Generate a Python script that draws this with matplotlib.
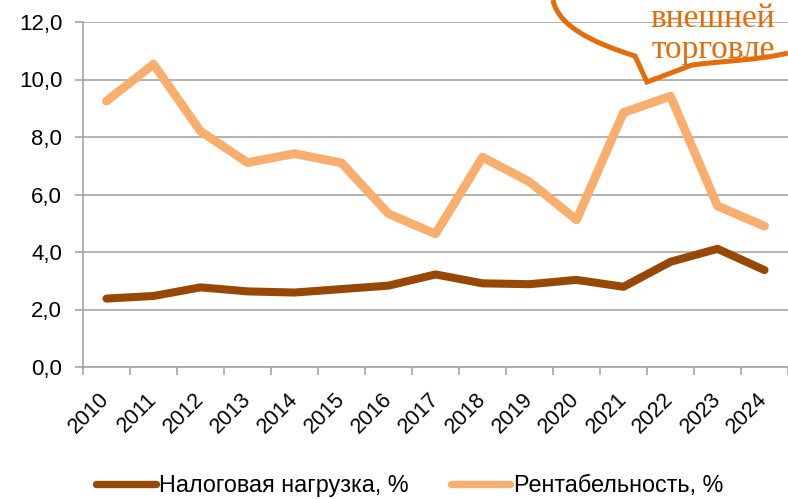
import matplotlib
matplotlib.use('Agg')
import matplotlib.pyplot as plt
from matplotlib.path import Path
from matplotlib.patches import PathPatch
from matplotlib.transforms import Affine2D

# Данные
years = ['2010', '2011', '2012', '2013', '2014', '2015', '2016', '2017',
         '2018', '2019', '2020', '2021', '2022', '2023', '2024']
tax_burden = [2.38, 2.47, 2.77, 2.63, 2.59, 2.71, 2.83, 3.22,
              2.91, 2.88, 3.03, 2.79, 3.66, 4.11, 3.37]
profitability = [9.25, 10.53, 8.2, 7.11, 7.42, 7.1, 5.33, 4.63,
                 7.3, 6.44, 5.12, 8.85, 9.42, 5.6, 4.9]
yticks = [0, 2, 4, 6, 8, 10, 12]
ytick_labels = ['0,0', '2,0', '4,0', '6,0', '8,0', '10,0', '12,0']
series_names = ['Налоговая нагрузка, %', 'Рентабельность, %']
callout_lines = ['внешней', 'торговле']

dark = '#974706'
light = '#F9AE6E'
accent = '#E46C0A'
grid = '#A6A6A6'

plt.rcParams['font.family'] = ['Liberation Sans', 'DejaVu Sans']

W, H = 788, 499
fig = plt.figure(figsize=(W / 100, H / 100), dpi=100)
ax = fig.add_axes([83 / W, 1 - 367 / H, 1 - 83 / W, (367 - 22) / H])

x = list(range(len(years)))
ax.plot(x, tax_burden, color=dark, lw=5.8, solid_capstyle='round',
        solid_joinstyle='round', label=series_names[0], zorder=3)
ax.plot(x, profitability, color=light, lw=6.3, solid_capstyle='round',
        solid_joinstyle='round', label=series_names[1], zorder=3)

ax.set_xlim(-0.5, len(years) - 0.5)
ax.set_ylim(0, 12)
ax.set_yticks(yticks)
ax.set_yticklabels(ytick_labels, fontsize=16)
ax.yaxis.grid(True, color=grid, lw=1.2)
ax.set_axisbelow(True)

# деления по границам категорий, подписи по центрам
ax.set_xticks([i - 0.5 for i in x] + [len(years) - 0.5])
ax.set_xticklabels([])
ax.set_xticks(x, minor=True)
ax.set_xticklabels(years, minor=True, fontsize=15.5, rotation=45,
                   ha='right', va='center', rotation_mode='anchor')
ax.tick_params(axis='x', which='minor', length=0, pad=21)
ax.tick_params(axis='x', which='major', length=6, color=grid, width=1.2)
ax.tick_params(axis='y', length=6, color=grid, width=1.2, pad=9)

for s in ['top', 'right']:
    ax.spines[s].set_visible(False)
for s in ['left', 'bottom']:
    ax.spines[s].set_color(grid)
    ax.spines[s].set_linewidth(1.2)

leg = fig.legend(loc='center', bbox_to_anchor=(0.52, 0.027), ncol=2,
                 frameon=False, fontsize=16.8, handlelength=2.55,
                 handletextpad=0.15, columnspacing=1.8)
for h in leg.get_lines():
    h.set_linewidth(5.3)

# выноска в правом верхнем углу (координаты в пикселях рисунка)
verts = [(553, 0), (558, 25), (590, 42), (635, 56),
         (647, 82), (692, 65),
         (722, 61), (760, 60), (788, 53)]
codes = [Path.MOVETO, Path.CURVE4, Path.CURVE4, Path.CURVE4,
         Path.LINETO, Path.LINETO,
         Path.CURVE4, Path.CURVE4, Path.CURVE4]
to_fig = Affine2D().scale(1 / W, -1 / H).translate(0, 1) + fig.transFigure
fig.add_artist(PathPatch(Path(verts, codes), fill=False, edgecolor=accent,
                         lw=3.6, joinstyle='miter', transform=to_fig,
                         zorder=5))
fig.text(713 / W, 1 - 27 / H, callout_lines[0], color=accent, ha='center',
         va='baseline', fontsize=24, family='Liberation Serif')
fig.text(713 / W, 1 - 58 / H, callout_lines[1], color=accent, ha='center',
         va='baseline', fontsize=24, family='Liberation Serif')

fig.savefig('out.png', dpi=100)
